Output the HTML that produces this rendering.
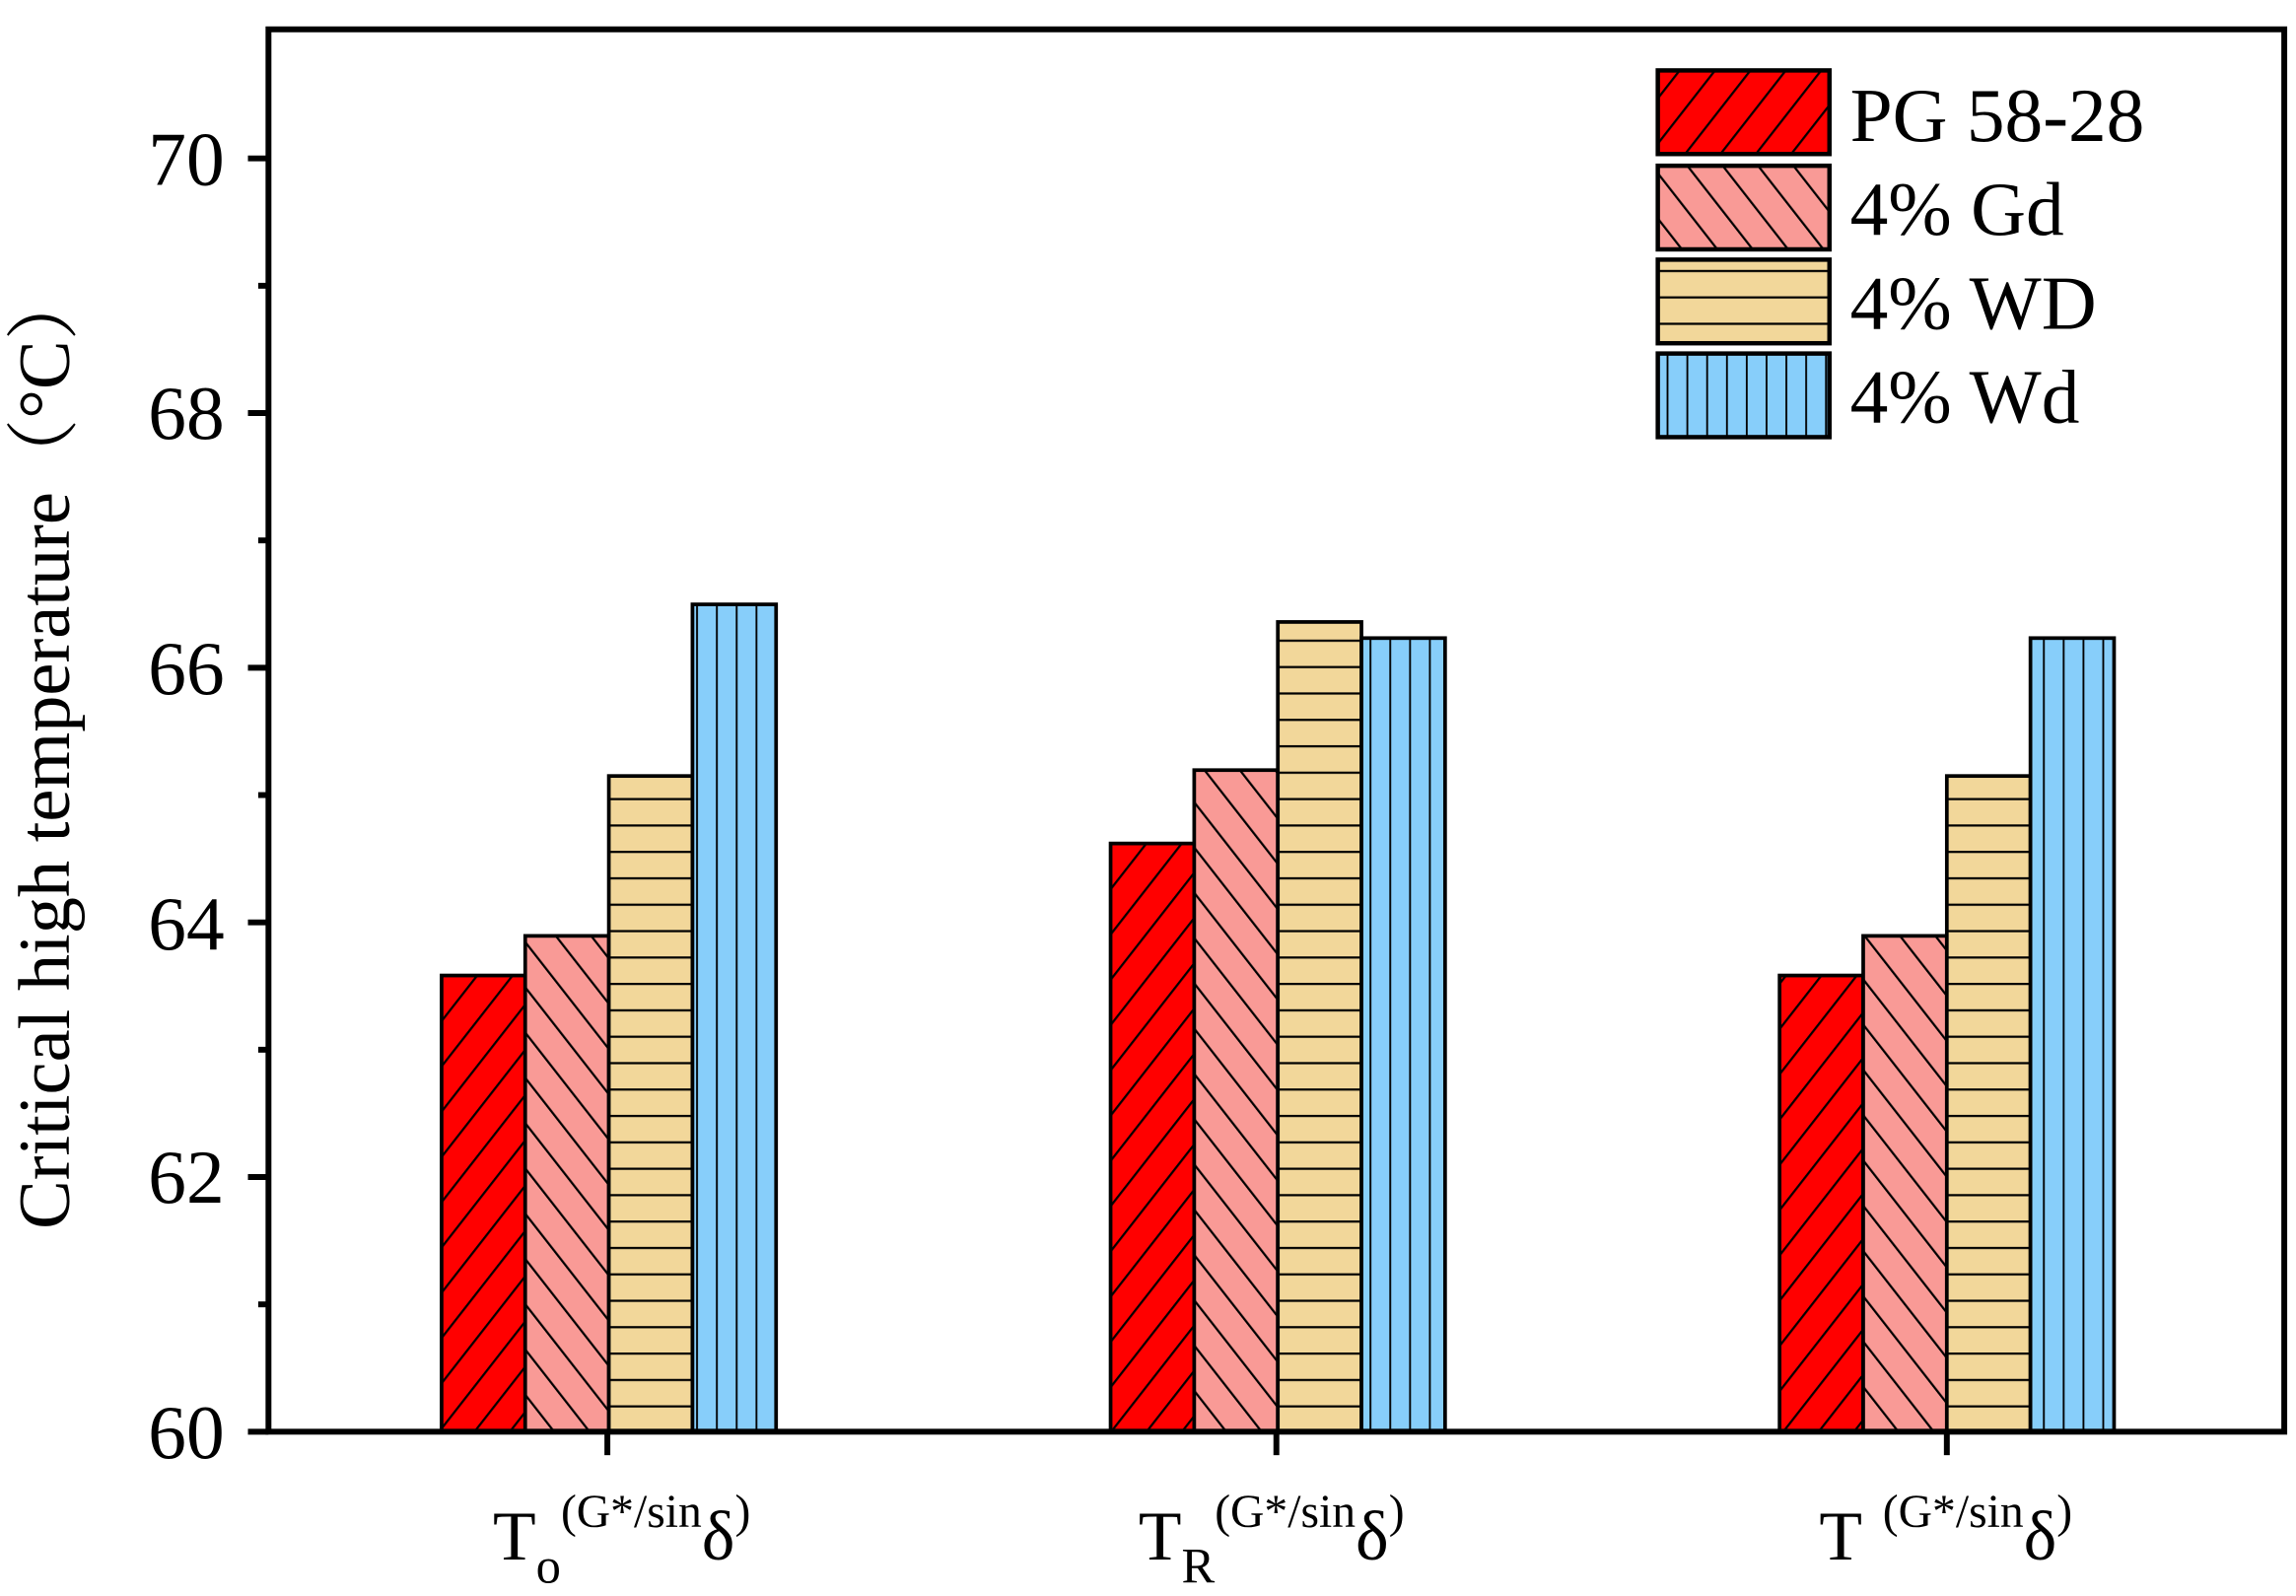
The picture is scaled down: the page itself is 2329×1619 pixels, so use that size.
<!DOCTYPE html>
<html><head><meta charset="utf-8"><style>html,body{margin:0;padding:0;background:#fff}svg{display:block}</style></head>
<body>
<svg width="2329" height="1619" viewBox="0 0 1565 1088" preserveAspectRatio="none" xmlns="http://www.w3.org/2000/svg" font-family="Liberation Serif, serif">
<defs>
<pattern id="pR" patternUnits="userSpaceOnUse" width="19" height="19" patternTransform="rotate(38)">
<rect width="19" height="19" fill="#ff0000"/><line x1="0" y1="0" x2="0" y2="19" stroke="#000" stroke-width="3"/></pattern>
<pattern id="pP" patternUnits="userSpaceOnUse" width="19" height="19" patternTransform="rotate(-38)">
<rect width="19" height="19" fill="#f99a96"/><line x1="0" y1="0" x2="0" y2="19" stroke="#000" stroke-width="3"/></pattern>
<pattern id="pT" patternUnits="userSpaceOnUse" width="10" height="18" y="4">
<rect width="10" height="18" fill="#f2d79a"/><line x1="0" y1="0" x2="10" y2="0" stroke="#000" stroke-width="3"/></pattern>
<pattern id="pB" patternUnits="userSpaceOnUse" width="13.5" height="10" x="2">
<rect width="13.5" height="10" fill="#87cefa"/><line x1="0" y1="0" x2="0" y2="10" stroke="#000" stroke-width="2.5"/></pattern>
</defs>
<g stroke="#000" stroke-width="2.5">
<rect x="301" y="665" width="57" height="311" fill="url(#pR)"/>
<rect x="358" y="638" width="57" height="338" fill="url(#pP)"/>
<rect x="415" y="529" width="57" height="447" fill="url(#pT)"/>
<rect x="472" y="412" width="57" height="564" fill="url(#pB)"/>
<rect x="757" y="575" width="57" height="401" fill="url(#pR)"/>
<rect x="814" y="525" width="57" height="451" fill="url(#pP)"/>
<rect x="871" y="424" width="57" height="552" fill="url(#pT)"/>
<rect x="928" y="435" width="57" height="541" fill="url(#pB)"/>
<rect x="1213" y="665" width="57" height="311" fill="url(#pR)"/>
<rect x="1270" y="638" width="57" height="338" fill="url(#pP)"/>
<rect x="1327" y="529" width="57" height="447" fill="url(#pT)"/>
<rect x="1384" y="435" width="57" height="541" fill="url(#pB)"/>
</g>
<rect x="183" y="20" width="1374" height="956" fill="none" stroke="#000" stroke-width="4"/>
<g stroke="#000" stroke-width="4">
<line x1="169" y1="976" x2="183" y2="976"/><line x1="169" y1="802.4" x2="183" y2="802.4"/><line x1="169" y1="628.8" x2="183" y2="628.8"/><line x1="169" y1="455.2" x2="183" y2="455.2"/><line x1="169" y1="281.6" x2="183" y2="281.6"/><line x1="169" y1="108" x2="183" y2="108"/>
<line x1="176" y1="889.2" x2="183" y2="889.2"/><line x1="176" y1="715.6" x2="183" y2="715.6"/><line x1="176" y1="542" x2="183" y2="542"/><line x1="176" y1="368.4" x2="183" y2="368.4"/><line x1="176" y1="194.8" x2="183" y2="194.8"/>
<line x1="414" y1="976" x2="414" y2="992"/><line x1="870" y1="976" x2="870" y2="992"/><line x1="1327" y1="976" x2="1327" y2="992"/>
</g>
<g font-size="52" text-anchor="end" fill="#000">
<text x="153" y="994">60</text><text x="153" y="820">62</text><text x="153" y="647">64</text><text x="153" y="473">66</text><text x="153" y="299">68</text><text x="153" y="126">70</text>
</g>
<text transform="translate(47,510) rotate(-90)" font-size="50" text-anchor="middle" font-family="Liberation Serif, 'Noto Serif CJK SC', serif">Critical high temperature（°C）</text>
<g fill="#000">
<text x="336" y="1063" font-size="48">T<tspan font-size="34" dy="16">o</tspan><tspan font-size="32" dy="-38">(G*/sin</tspan><tspan font-size="48" dy="22">δ</tspan><tspan font-size="32" dy="-22">)</tspan></text>
<text x="776" y="1063" font-size="48">T<tspan font-size="34" dy="16">R</tspan><tspan font-size="32" dy="-38">(G*/sin</tspan><tspan font-size="48" dy="22">δ</tspan><tspan font-size="32" dy="-22">)</tspan></text>
<text x="1240" y="1063" font-size="48">T<tspan font-size="32" dx="14" dy="-22">(G*/sin</tspan><tspan font-size="48" dy="22">δ</tspan><tspan font-size="32" dy="-22">)</tspan></text>
</g>
<g stroke="#000" stroke-width="3">
<rect x="1130" y="48" width="117" height="57" fill="url(#pR)"/>
<rect x="1130" y="113" width="117" height="57" fill="url(#pP)"/>
<rect x="1130" y="177" width="117" height="57" fill="url(#pT)"/>
<rect x="1130" y="241" width="117" height="57" fill="url(#pB)"/>
</g>
<g font-size="52" fill="#000">
<text x="1261" y="96">PG 58-28</text>
<text x="1261" y="160">4% Gd</text>
<text x="1261" y="224">4% WD</text>
<text x="1261" y="288">4% Wd</text>
</g>
</svg>
</body></html>
